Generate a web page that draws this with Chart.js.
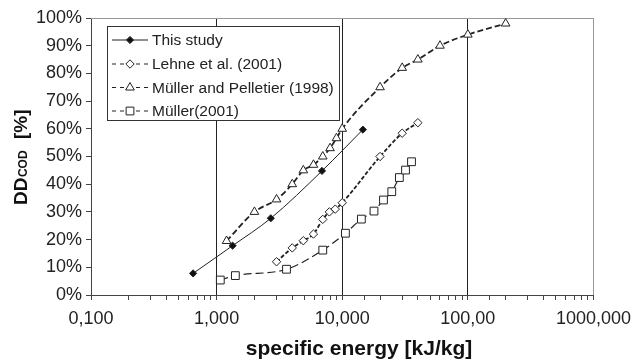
<!DOCTYPE html>
<html>
<head>
<meta charset="utf-8">
<script src="https://cdn.jsdelivr.net/npm/chart.js@4"></script>
<style>
html,body{margin:0;padding:0;background:#fff;}
#wrap{width:639px;height:361px;position:relative;}
</style>
</head>
<body>
<div id="wrap"><canvas id="c" width="639" height="361"></canvas></div>
<script>
// ---- data ----
const seriesNames = ['This study', 'Lehne et al. (2001)', 'Müller and Pelletier (1998)', 'Müller(2001)'];

const thisStudyX = [0.65, 1.34, 2.7, 6.9, 14.6];
const thisStudyY = [7.8, 17.8, 27.7, 44.8, 59.7];

const lehneX = [3, 4, 4.9, 5.9, 7, 7.9, 8.8, 10, 20, 30, 40];
const lehneY = [12, 17, 19.6, 22, 27.3, 30, 31, 33.3, 50, 58.4, 62.2];

const pelletierX = [1.2, 2, 3, 4, 4.9, 5.9, 7, 8, 9, 10, 20, 30, 40, 60, 100, 200];
const pelletierY = [19.5, 30, 34.5, 40, 45, 47, 50, 53, 56.6, 60, 75, 82, 85, 90, 94, 98];

const muller2001X = [1.07, 1.41, 3.6, 7, 10.6, 14.2, 17.9, 21.3, 24.8, 28.5, 31.9, 35.6];
const muller2001Y = [5.4, 7, 9.3, 16.2, 22.3, 27.4, 30.3, 34.3, 37.3, 42.4, 45.1, 48.1];

const xDecades = [0.1, 1, 10, 100, 1000];
const xTickLabels = ['0,100', '1,000', '10,000', '100,00', '1000,000'];

const yTitleMain = 'DD';
const yTitleSub = 'COD';
const yTitleUnit = '[%]';
const xTitle = 'specific energy [kJ/kg]';

// ---- helpers ----
const pts = (xs, ys) => xs.map((x, i) => ({x: x, y: ys[i]}));
const isDecade = v => Math.abs(Math.log10(v) - Math.round(Math.log10(v))) < 1e-6;
const decadeLabel = v => {
  for (let i = 0; i < xDecades.length; i++) {
    if (Math.abs(v / xDecades[i] - 1) < 1e-6) return xTickLabels[i];
  }
  return '';
};
const FONT = '"Liberation Sans", Arial, Helvetica, sans-serif';
const INK = '#222';

const styles = [
  {pointStyle: 'rectRot', radius: 3.6, fill: '#111', dash: [], width: 1},
  {pointStyle: 'rectRot', radius: 4.2, fill: '#fff', dash: [4, 2], width: 1.8},
  {pointStyle: 'triangle', radius: 5, fill: '#fff', dash: [6, 3], width: 1.8},
  {pointStyle: 'rect', radius: 5.5, fill: '#fff', dash: [8, 4], width: 1.2}
];
const dataSets = [pts(thisStudyX, thisStudyY), pts(lehneX, lehneY), pts(pelletierX, pelletierY), pts(muller2001X, muller2001Y)];

const datasets = dataSets.map((d, i) => ({
  label: seriesNames[i],
  data: d,
  borderColor: INK,
  backgroundColor: styles[i].fill,
  borderWidth: styles[i].width,
  borderDash: styles[i].dash,
  pointStyle: styles[i].pointStyle,
  pointRadius: styles[i].radius,
  pointHoverRadius: styles[i].radius,
  pointBackgroundColor: styles[i].fill,
  pointBorderColor: INK,
  pointBorderWidth: 1,
  tension: 0.4,
  cubicInterpolationMode: 'monotone',
  fill: false
}));

const decorPlugin = {
  id: 'decor',
  beforeDatasetsDraw(chart) {
    const {ctx, chartArea: a} = chart;
    ctx.save();
    ctx.strokeStyle = '#999';
    ctx.lineWidth = 1;
    ctx.beginPath();
    ctx.moveTo(a.left, a.top + 0.5);
    ctx.lineTo(a.right, a.top + 0.5);
    ctx.stroke();
    ctx.restore();
  },
  afterDraw(chart) {
    const ctx = chart.ctx;
    // legend
    ctx.save();
    const bx = 107.5, by = 26.5, bw = 232, bh = 94;
    ctx.fillStyle = '#fff';
    ctx.fillRect(bx, by, bw, bh);
    ctx.strokeStyle = '#333';
    ctx.lineWidth = 1;
    ctx.strokeRect(bx, by, bw, bh);
    const rows = [40, 64, 87.5, 111];
    rows.forEach((ry, i) => {
      const st = styles[i];
      ctx.strokeStyle = INK;
      ctx.lineWidth = 1;
      ctx.setLineDash(i === 0 ? [] : [4, 4]);
      ctx.beginPath();
      ctx.moveTo(112, ry);
      ctx.lineTo(148, ry);
      ctx.stroke();
      ctx.setLineDash([]);
      ctx.fillStyle = st.fill;
      ctx.strokeStyle = INK;
      Chart.helpers.drawPoint(ctx, {pointStyle: st.pointStyle, radius: st.radius, rotation: 0, borderWidth: 1}, 130, ry);
      ctx.fillStyle = INK;
      ctx.font = '15.5px ' + FONT;
      ctx.textBaseline = 'middle';
      ctx.textAlign = 'left';
      ctx.fillText(seriesNames[i], 152, ry + 1);
    });
    ctx.restore();

    // y title (rotated)
    ctx.save();
    ctx.translate(27, 205);
    ctx.rotate(-Math.PI / 2);
    ctx.fillStyle = '#111';
    ctx.textBaseline = 'alphabetic';
    ctx.textAlign = 'left';
    ctx.font = 'bold 19px ' + FONT;
    ctx.fillText(yTitleMain, 0, 0);
    const w1 = ctx.measureText(yTitleMain).width;
    ctx.font = 'bold 12px ' + FONT;
    ctx.fillText(yTitleSub, w1 + 0.5, 0);
    ctx.font = 'bold 19px ' + FONT;
    ctx.fillText(yTitleUnit, 66, 0);
    ctx.restore();

    // x title
    ctx.save();
    ctx.fillStyle = '#111';
    ctx.font = 'bold 21px ' + FONT;
    ctx.textAlign = 'center';
    ctx.textBaseline = 'alphabetic';
    ctx.fillText(xTitle, 359, 355);
    ctx.restore();
  }
};

new Chart(document.getElementById('c'), {
  type: 'line',
  data: {datasets: datasets},
  plugins: [decorPlugin],
  options: {
    responsive: false,
    animation: false,
    events: [],
    layout: {padding: {top: 18, right: 43, left: 0, bottom: 0}},
    plugins: {legend: {display: false}, tooltip: {enabled: false}},
    scales: {
      x: {
        type: 'logarithmic',
        min: 0.1,
        max: 1000,
        afterFit: s => { s.height = 66; },
        border: {display: true, color: '#444', width: 1},
        grid: {
          drawOnChartArea: true,
          color: c => {
            const v = c.tick && c.tick.value;
            if (v == null || !isDecade(v)) return 'rgba(0,0,0,0)';
            if (Math.abs(v - 1000) < 1e-6) return '#999';
            if (Math.abs(v - 0.1) < 1e-9) return 'rgba(0,0,0,0)';
            return '#222';
          },
          tickColor: '#444',
          tickLength: 5,
          lineWidth: 1
        },
        ticks: {
          autoSkip: false,
          maxRotation: 0,
          padding: 8,
          color: '#222',
          font: {family: FONT, size: 18},
          callback: v => isDecade(v) ? decadeLabel(v) : ''
        }
      },
      y: {
        type: 'linear',
        min: 0,
        max: 100,
        afterFit: s => { s.width = 91; },
        border: {display: true, color: '#444', width: 1},
        grid: {drawOnChartArea: false, tickColor: '#444', tickLength: 5},
        ticks: {
          stepSize: 10,
          padding: 4,
          color: '#222',
          font: {family: FONT, size: 18},
          callback: v => v + '%'
        }
      }
    }
  }
});
</script>
</body>
</html>
